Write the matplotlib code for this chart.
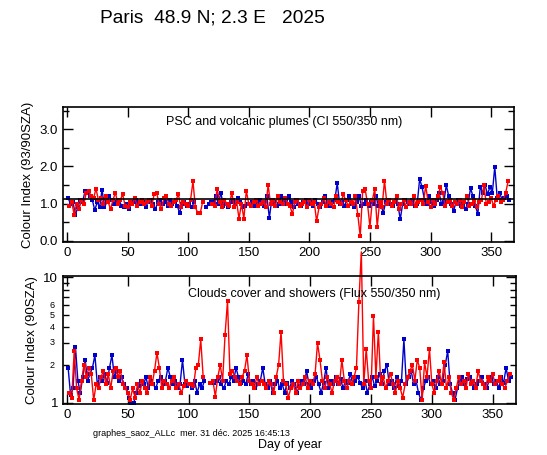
import matplotlib
matplotlib.use("Agg")
import matplotlib.pyplot as plt
import numpy as np
from matplotlib.ticker import FixedLocator, NullFormatter

plt.rcParams["font.family"] = ["Liberation Sans", "DejaVu Sans"]

# morning (blue, odd days) and evening (red, even days) measurements
DAYS_AM = np.arange(1, 366, 2)
DAYS_PM = np.arange(2, 365, 2)
nan = np.nan

# Colour index 550/350 nm (93/90 SZA)
CI_AM = [
    1.15, 1.0, 1.05, 0.7, 0.9, 1.1, 1.05, 1.35, 1.3, 1.2,
    1.1, 0.82, 1.05, 0.9, 1.38, 0.9, 1.05, 1.2, 1.1, 1.0,
    1.05, 1.1, 0.95, 0.9, 1.0, 0.85, 1.0, 1.05, 1.1, 1.0,
    1.0, 1.05, 0.9, 1.05, 1.1, 1.0, 0.85, 1.05, 1.1, 1.0,
    1.05, 0.95, 1.1, 1.0, 1.05, 0.95, 0.75, 1.0, 1.05, 0.95,
    1.0, 0.9, 1.05, nan, nan, nan, nan, 0.9, 1.0, 1.05,
    1.05, 1.2, 1.0, 1.3, 0.95, 1.0, 0.9, 1.05, 1.1, 1.0,
    1.15, 1.05, 0.9, 0.95, 1.0, 1.0, 1.05, 0.95, 1.0, 1.1,
    1.05, 0.95, 1.2, 0.62, 1.1, 1.05, 0.95, 1.0, 1.2, 1.05,
    1.0, 1.2, 1.05, 0.9, 1.1, 1.0, 0.95, 1.05, 1.1, 1.0,
    1.05, 0.95, 1.1, 1.0, 0.9, 1.05, 1.2, 1.0, 0.95, 1.05,
    1.1, 1.55, 1.0, 1.05, 0.95, 1.1, 1.2, 1.0, 0.9, 1.05,
    1.2, 0.95, 1.0, 1.1, 0.95, 1.05, 1.0, 1.2, 0.95, 1.0,
    0.75, 1.05, 1.1, 1.0, 0.95, 1.05, 1.0, 0.58, 1.0, 1.1,
    1.05, 1.0, 1.1, 0.95, 1.0, 1.66, 1.45, 1.1, 1.0, 1.2,
    1.05, 0.95, 1.1, 1.3, 1.0, 1.05, 1.5, 1.2, 1.0, 0.8,
    1.05, 1.1, 0.95, 1.0, 0.85, 1.0, 1.42, 1.2, 0.95, 0.72,
    1.45, 1.3, 1.5, 1.25, 1.45, 1.3, 1.99, 1.15, 1.3, 1.1,
    1.15, 1.2, 1.1,
]
CI_PM = [
    0.95, 1.05, 0.7, 1.0, 0.85, 1.1, 1.0, 1.3, 1.35, 1.2,
    1.15, 1.4, 1.1, 1.15, 1.0, 1.2, 1.05, 0.85, 1.1, 1.3,
    1.0, 1.1, 1.25, 0.95, 0.9, 1.05, 1.0, 1.15, 0.95, 1.05,
    1.1, 1.0, 1.05, 1.1, 0.95, 1.25, 1.3, 1.0, 0.85, 1.15,
    1.2, 1.0, 0.95, 1.05, 1.1, 1.25, 0.9, 1.05, 1.0, 0.95,
    1.1, 1.6, 0.9, 0.75, 0.75, 1.05, nan, nan, nan, 1.0,
    0.95, 1.4, 1.05, 0.9, 1.1, 1.0, 0.95, 1.3, 0.9, 1.05,
    0.6, 1.0, 0.6, 1.35, 1.0, 0.95, 1.05, 1.1, 0.95, 1.0,
    1.05, 0.9, 1.5, 1.0, 1.1, 0.95, 1.2, 1.05, 1.0, 1.15,
    1.0, 0.95, 0.72, 1.05, 1.1, 0.95, 1.0, 1.05, 0.9, 1.1,
    1.0, 1.05, 0.53, 0.9, 1.0, 1.15, 0.95, 1.05, 1.0, 0.9,
    1.2, 1.05, 1.0, 1.25, 1.1, 0.95, 1.05, 1.0, 1.2, 0.7,
    0.13, 1.35, 1.4, 1.0, 0.38, 1.1, 1.4, 0.38, 1.05, 0.9,
    1.62, 1.0, 1.1, 0.95, 1.05, 1.2, 0.85, 1.0, 1.1, 0.9,
    1.05, 1.0, 1.2, 0.95, 1.05, 1.1, 1.0, 1.48, 1.05, 0.9,
    1.1, 1.0, 1.2, 1.44, 1.3, 0.95, 1.05, 1.1, 0.95, 1.05,
    1.0, 1.1, 0.9, 1.05, 1.2, 0.95, 1.0, 1.1, 0.9, 1.05,
    1.1, 1.49, 1.0, 1.05, 1.15, 0.95, 1.1, 1.2, 1.05, 1.1,
    1.3, 1.6,
]
CI_REF = 1.13

# Flux ratio 550/350 nm (90 SZA)
FLUX_AM = [
    1.9, 1.15, 1.3, 2.8, 1.5, 1.2, 1.6, 2.2, 1.5, 1.7,
    1.9, 2.4, 1.4, 1.6, 1.5, 1.7, 1.45, 1.9, 2.4, 1.6,
    1.8, 1.5, 1.6, 1.4, 1.3, 1.1, 1.0, 1.0, 1.2, 1.35,
    1.5, 1.4, 1.6, 1.3, 1.5, 1.4, 1.3, 1.5, 1.6, 1.4,
    1.5, 1.9, 1.6, 1.4, 1.5, 1.3, 1.4, 2.2, 1.4, 1.35,
    1.4, 1.3, 1.5, 1.2, 1.4, 1.3, 1.5, nan, nan, 1.45,
    1.45, 1.5, 1.6, 1.4, 1.3, 1.5, 1.4, 1.6, 1.5, 1.9,
    1.6, 1.45, 1.5, 1.4, 1.7, 1.4, 1.5, 1.3, 1.4, 1.5,
    1.9, 1.4, 1.3, 1.5, 1.2, 1.4, 1.5, 1.3, 1.4, 1.2,
    1.45, 1.3, 1.5, 1.4, 1.2, 1.35, 1.5, 1.4, 1.8, 1.4,
    1.3, 1.5, 1.6, 1.4, 1.2, 1.45, 1.9, 1.3, 1.5, 1.4,
    1.6, 1.4, 1.55, 1.3, 1.5, 1.45, 1.7, 1.4, 1.5, 1.6,
    1.45, 1.3, 1.5, 1.2, 1.4, 1.6, 1.35, 1.5, 1.7, 1.4,
    1.8, 2.0, 1.4, 1.5, 1.3, 1.6, 1.35, 1.5, 3.2, 1.4,
    1.6, 1.8, 1.4, 1.5, 1.2, 1.05, 1.3, 1.5, 1.6, 1.4,
    1.5, 1.3, 1.6, 1.4, 1.5, 2.0, 2.6, 1.4, 1.2, 1.05,
    1.3, 1.5, 1.6, 1.4, 1.55, 1.6, 1.5, 1.3, 1.4, 1.5,
    1.6, 1.4, 1.3, 1.5, 1.6, 1.4, 1.5, 1.3, 1.6, 1.45,
    1.9, 1.5, 1.6,
]
FLUX_PM = [
    1.2, 1.1, 2.6, 1.3, 1.05, 1.5, 2.0, 1.6, 1.9, 1.7,
    1.05, 1.4, 1.3, 1.6, 1.8, 1.4, 1.7, 1.3, 1.8, 1.9,
    1.6, 1.8, 1.4, 1.3, 1.2, 1.05, 1.3, 1.1, 1.4, 1.2,
    1.5, 1.3, 1.2, 1.6, 1.4, 1.8, 2.5, 1.9, 1.3, 1.5,
    1.4, 1.3, 1.5, 1.6, 1.3, 1.4, 1.2, 1.35, 1.5, 1.4,
    1.4, 1.35, 1.9, 2.0, 3.2, 1.6, nan, nan, 1.45, 1.5,
    1.12, 1.6, 2.0, 1.5, 3.5, 6.5, 1.7, 1.8, 1.6, 1.5,
    1.4, 1.6, 1.8, 2.4, 1.5, 1.4, 1.3, 1.6, 1.4, 1.5,
    1.4, 1.3, 1.5, 1.4, 1.2, 1.6, 2.0, 3.7, 1.5, 1.4,
    1.1, 1.3, 1.4, 1.2, 1.5, 1.3, 1.4, 1.6, 1.3, 1.5,
    1.4, 1.7, 3.0, 2.2, 1.5, 1.3, 1.6, 1.4, 1.2, 1.5,
    1.6, 1.4, 2.2, 1.5, 1.3, 1.5, 1.4, 1.6, 1.9, 6.4,
    16.0, 1.4, 2.7, 1.5, 1.3, 4.9, 1.6, 3.7, 1.4, 1.6,
    1.3, 1.5, 1.7, 1.4, 1.2, 1.5, 1.3, 1.1, 1.4, 1.6,
    1.8, 2.0, 1.5, 2.2, 1.9, 1.05, 2.1, 1.6, 2.7, 1.4,
    1.2, 1.5, 1.8, 1.4, 2.1, 1.3, 1.6, 1.2, 1.05, 1.3,
    1.6, 1.4, 1.5, 1.3, 1.7, 1.4, 1.5, 1.3, 1.8, 1.5,
    1.4, 1.3, 1.6, 1.5, 1.7, 1.4, 1.5, 1.6, 1.4, 1.3,
    1.5, 1.7,
]

BLUE = "#0000cc"
RED = "#ff0000"


def series(ax, days, vals, color, clip=True):
    ax.plot(days, vals, "-", color=color, lw=1.0, clip_on=clip)
    ax.plot(days, vals, "s", color=color, ms=3.0, mew=0)


fig = plt.figure(figsize=(5.47, 4.55), dpi=100)
ax1 = fig.add_axes([0.115, 0.468, 0.825, 0.297])
ax2 = fig.add_axes([0.115, 0.112, 0.828, 0.281])

# top panel: colour index
series(ax1, DAYS_AM, CI_AM, BLUE)
series(ax1, DAYS_PM, CI_PM, RED)
ax1.axhline(CI_REF, color="black", lw=1.2)
ax1.set_ylim(-0.03, 3.6)
ax1.set_yticks([0.0, 1.0, 2.0, 3.0])
ax1.set_yticklabels(["0.0", "1.0", "2.0", "3.0"])
ax1.yaxis.set_minor_locator(FixedLocator([0.5, 1.5, 2.5, 3.5]))
ax1.set_ylabel("Colour Index (93/90SZA)", fontsize=9.5)
ax1.text(0.49, 0.89, "PSC and volcanic plumes (CI 550/350 nm)",
         transform=ax1.transAxes, ha="center", va="center", fontsize=9)

# bottom panel: flux ratio, log scale
series(ax2, DAYS_AM, FLUX_AM, BLUE)
series(ax2, DAYS_PM, FLUX_PM, RED, clip=False)
ax2.set_yscale("log")
ax2.set_ylim(0.976, 10.24)
ax2.yaxis.set_major_locator(FixedLocator([1, 10]))
ax2.set_yticklabels(["1", "10"])
ax2.yaxis.set_minor_locator(FixedLocator([2, 3, 4, 5, 6, 7, 8, 9]))
ax2.yaxis.set_minor_formatter(NullFormatter())
for v in [2, 3, 4, 5, 6]:
    ax2.annotate(str(v), xy=(0, v), xycoords=("axes fraction", "data"),
                 xytext=(-6, 0), textcoords="offset points",
                 ha="right", va="center", fontsize=6.5)
ax2.set_ylabel("Colour Index (90SZA)", fontsize=9.5)
ax2.text(0.554, 0.86, "Clouds cover and showers (Flux 550/350 nm)",
         transform=ax2.transAxes, ha="center", va="center", fontsize=9)

for ax in (ax1, ax2):
    ax.set_xlim(-3.3, 369)
    ax.set_xticks(range(0, 351, 50))
    ax.tick_params(which="both", direction="in", top=True, right=True,
                   labelsize=9.5, width=1)
    ax.tick_params(which="major", length=7)
    ax.tick_params(which="minor", length=4)
    for s in ax.spines.values():
        s.set_linewidth(1.2)

fig.text(100 / 547, 1 - 18 / 455, "Paris  48.9 N; 2.3 E   2025",
         fontsize=13.8, ha="left", va="center")
fig.text(93 / 547, 1 - 433 / 455,
         "graphes_saoz_ALLc  mer. 31 déc. 2025 16:45:13",
         fontsize=6.5, ha="left", va="center")
fig.text(290 / 547, 1 - 445 / 455, "Day of year", fontsize=9,
         ha="center", va="center")

fig.savefig("out.png", dpi=100)
